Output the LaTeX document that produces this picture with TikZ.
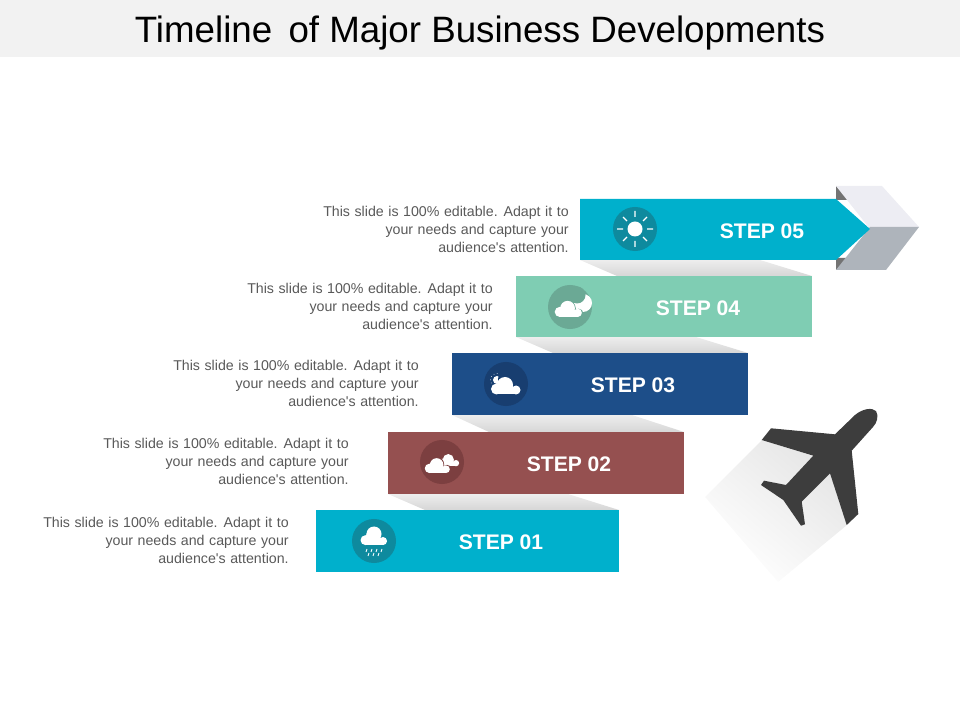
\documentclass[tikz,border=0pt]{standalone}
\usepackage{fontspec}
\setmainfont{Liberation Sans}
\newfontfamily\blurbfont[WordSpace=1.15]{Liberation Sans}
\definecolor{stepcyan}{HTML}{00B0CC}
\definecolor{stepgreen}{HTML}{7FCDB3}
\definecolor{stepblue}{HTML}{1D4E89}
\definecolor{stepred}{HTML}{955050}
\definecolor{iconcyan}{HTML}{0E8A9E}
\definecolor{icongreen}{HTML}{6BA995}
\definecolor{iconblue}{HTML}{183E70}
\definecolor{iconred}{HTML}{7C3F40}
\definecolor{chevtop}{HTML}{EDEDF3}
\definecolor{chevbottom}{HTML}{AEB4BB}
\newcommand{\cloudshape}[4][white]{
  \fill [#1, shift={(#2, #3)}, scale=#4] (-9.5, 3.5) circle [radius=5.5]
        (-1, -0.5) circle [radius=8] (10, 4.5) circle [radius=4.5];
  \fill [#1, shift={(#2, #3)}, scale=#4] (-9.5, 3) rectangle (10, 9);
}
\newcommand{\sideblurb}{This slide is 100\% editable. Adapt it to\\your needs and capture your\\audience\textquotesingle s attention.}
\tikzset{
  stepshadow/.style={top color=black!7, bottom color=black!16},
  steplabel/.style={text=white, font=\fontsize{15pt}{17pt}\selectfont\bfseries},
  iconcircle/.style={circle, minimum size=1.1cm, inner sep=0pt},
  sidetext/.style={anchor=east, align=right, inner sep=0pt, text=black!65,
    font=\blurbfont\fontsize{10.1pt}{12.8pt}\selectfont}
}
\begin{document}
\begin{tikzpicture}[x=0.025cm, y=-0.025cm]
      \useasboundingbox (0, 0) rectangle (960, 720);
      \fill [black!5] (0, 0) rectangle (960, 57);
      \draw (480, 33) node (title) [font=\fontsize{26.1pt}{30pt}\selectfont, text=black] {Timeline\, of Major Business Developments};

      \shade [stepshadow] (580, 260) -- (617, 276) -- (812, 276) -- (760, 260) -- cycle;
      \shade [stepshadow] (516, 337) -- (553, 353) -- (748, 353) -- (696, 337) -- cycle;
      \shade [stepshadow] (452, 415) -- (489, 432) -- (684, 432) -- (632, 415) -- cycle;
      \shade [stepshadow] (388, 494) -- (425, 510) -- (619, 510) -- (568, 494) -- cycle;

      \fill [black!55] (836, 186) -- (850, 200) -- (836, 200) -- cycle
                       (836, 270) -- (836, 258) -- (850, 258) -- cycle;
      \fill [chevtop] (836, 186) -- (882, 186) -- (919, 227) -- (870, 229) -- cycle;
      \fill [chevbottom] (870, 227) -- (919, 227) -- (886, 270) -- (836, 270) -- cycle;
      \fill [stepcyan] (580, 199) -- (836, 199) -- (870, 229) -- (836, 260) -- (580, 260) -- cycle;
      \fill [stepgreen] (516, 276) rectangle (812, 337);
      \fill [stepblue] (452, 353) rectangle (748, 415);
      \fill [stepred] (388, 432) rectangle (684, 494);
      \fill [stepcyan] (316, 510) rectangle (619, 572);

      \draw (762, 231) node (step05) [steplabel] {STEP 05}
            (698, 308) node (step04) [steplabel] {STEP 04}
            (633, 385) node (step03) [steplabel] {STEP 03}
            (569, 464) node (step02) [steplabel] {STEP 02}
            (501, 542) node (step01) [steplabel] {STEP 01};

      \draw (569, 229) node (text05) [sidetext] {\sideblurb}
            (493, 306) node (text04) [sidetext] {\sideblurb}
            (419, 383) node (text03) [sidetext] {\sideblurb}
            (349, 461) node (text02) [sidetext] {\sideblurb}
            (289, 540) node (text01) [sidetext] {\sideblurb};

      \node (icon05) [iconcircle, fill=iconcyan] at (635, 229) {};
      \node (icon04) [iconcircle, fill=icongreen] at (570, 307) {};
      \node (icon03) [iconcircle, fill=iconblue] at (506, 384) {};
      \node (icon02) [iconcircle, fill=iconred] at (442, 462) {};
      \node (icon01) [iconcircle, fill=iconcyan] at (374, 541) {};

      \fill [white] (635, 229) circle [radius=7.5];
      \draw [white, line width=0.9pt] (635, 217) -- (635, 211) (635, 241) -- (635, 247)
            (623, 229) -- (617, 229) (647, 229) -- (653, 229)
            (627, 221) -- (623, 217) (643, 221) -- (647, 217)
            (627, 237) -- (623, 241) (643, 237) -- (647, 241);

      \fill [white] (583, 303) circle [radius=9];
      \fill [icongreen] (577, 295) circle [radius=8.5];
      \cloudshape[icongreen]{568.5}{308.7}{1.02}
      \cloudshape{568.5}{308.7}{0.92}

      \fill [white] (497, 380) circle [radius=4];
      \draw [white, line width=0.4pt, dotted] (497, 380) circle [radius=6.5];
      \fill [iconblue] (507, 379) circle [radius=9];
      \cloudshape{506}{385.5}{1}

      \cloudshape{449}{460}{0.7}
      \cloudshape[iconred]{437.5}{464.8}{0.95}
      \cloudshape{437.5}{465.4}{0.85}

      \fill [white] (374, 534) circle [radius=7.5];
      \cloudshape{374}{537}{0.9}
      \draw [white, line width=0.6pt] (367, 549) -- (366, 552) (372, 549) -- (371, 552)
            (377, 549) -- (376, 552) (382, 549) -- (381, 552)
            (369, 553) -- (368, 556) (374, 553) -- (373, 556) (379, 553) -- (378, 556);

      \shade [top color=black!10, bottom color=white, shading angle=-40]
            (762, 440) -- (813, 456) -- (830, 473) -- (847, 525) -- (778, 582) -- (705, 497) -- cycle;
      \fill [black!76] (835, 434.3) -- (855, 415) .. controls (862, 409) and (872, 407) .. (876, 411)
            .. controls (879, 416) and (877, 423) .. (873, 427) -- (851.7, 450.7) -- (858.3, 514) -- (846.7, 525)
            -- (830, 473.3) -- (801.7, 501.7) -- (805, 524.3) -- (801, 525.7) -- (783.3, 500)
            -- (761, 485) -- (764, 480.7) -- (786, 485) -- (813.3, 455.7) -- (761.7, 440) -- (771, 428.3) -- cycle;
\end{tikzpicture}
\end{document}
